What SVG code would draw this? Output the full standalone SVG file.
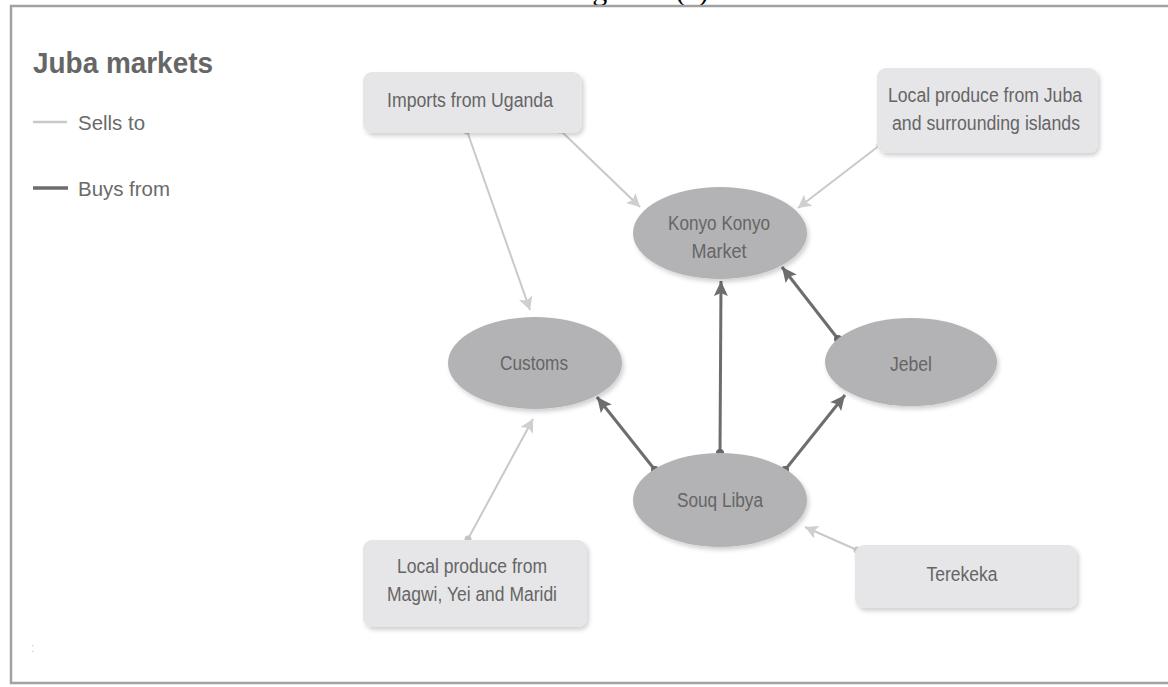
<svg xmlns="http://www.w3.org/2000/svg" width="1168" height="687" viewBox="0 0 1168 687">
<style>
  .t{font-family:"Liberation Sans","DejaVu Sans",sans-serif;fill:#656565;font-size:20px;text-anchor:middle}
  .lg{font-family:"Liberation Sans","DejaVu Sans",sans-serif;fill:#6a6a6a;font-size:21px}
  .box{fill:#e6e6e8;filter:url(#sh)}
  .ell{fill:#b3b3b5;filter:url(#sh)}
  .sell{stroke:#c9c9cb;stroke-width:2;fill:none;marker-end:url(#al)}
  .buy{stroke:#6d6d6f;stroke-width:3;fill:none;marker-end:url(#ad)}
  .dl{fill:#c4c4c6}
  .dd{fill:#666668}
</style>
<defs>
  <filter id="sh" x="-10%" y="-10%" width="125%" height="130%">
    <feDropShadow dx="2" dy="3" stdDeviation="2" flood-color="#000" flood-opacity="0.18"/>
  </filter>
  <marker id="ad" markerUnits="userSpaceOnUse" markerWidth="16" markerHeight="14" refX="15" refY="7" orient="auto">
    <path d="M0,0 L15,7 L0,14 L3,7 z" fill="#6d6d6f"/>
  </marker>
  <marker id="al" markerUnits="userSpaceOnUse" markerWidth="14" markerHeight="14" refX="13" refY="7" orient="auto">
    <path d="M0,0 L13,7 L0,14 L3,7 z" fill="#cfcfd1"/>
  </marker>
</defs>
<rect width="1168" height="687" fill="#ffffff"/>
<text x="638" y="0" font-family="Liberation Serif, serif" font-size="30" text-anchor="middle" fill="#000">Figure 3 (c)</text>
<rect x="11" y="6" width="1170" height="677" fill="none" stroke="#a2a2a2" stroke-width="2.5"/>

<g id="legend">
  <text x="33" y="73" font-family="Liberation Sans, sans-serif" font-weight="bold" font-size="29" fill="#666" textLength="180" lengthAdjust="spacingAndGlyphs">Juba markets</text>
  <line x1="33" y1="122" x2="67" y2="122" stroke="#c9c9cb" stroke-width="2.5"/>
  <text class="lg" x="78" y="130" textLength="67" lengthAdjust="spacingAndGlyphs">Sells to</text>
  <line x1="33" y1="188" x2="68" y2="188" stroke="#6d6d6f" stroke-width="3.5"/>
  <text class="lg" x="78" y="196" textLength="92" lengthAdjust="spacingAndGlyphs">Buys from</text>
  <text x="31" y="652" font-family="Liberation Sans, sans-serif" font-size="12" fill="#c8c8c8">:</text>
</g>

<g id="connectors">
  <line class="sell" x1="467" y1="131" x2="530" y2="310"/>
  <line class="sell" x1="560" y1="130" x2="640" y2="207"/>
  <line class="sell" x1="880" y1="145" x2="798" y2="208"/>
  <line class="sell" x1="468" y1="539" x2="533" y2="419"/>
  <line class="sell" x1="857" y1="550" x2="805" y2="527"/>
  <circle class="dl" cx="467" cy="131" r="3.5"/>
  <circle class="dl" cx="560" cy="130" r="3.5"/>
  <circle class="dl" cx="880" cy="145" r="3.5"/>
  <circle class="dl" cx="468" cy="539" r="3.5"/>
  <circle class="dl" cx="857" cy="550" r="3.5"/>
  <line class="buy" x1="720" y1="453" x2="721" y2="281"/>
  <line class="buy" x1="655" y1="470" x2="597" y2="397"/>
  <line class="buy" x1="785" y1="470" x2="845" y2="395"/>
  <line class="buy" x1="838" y1="339" x2="782" y2="267"/>
  <circle class="dd" cx="720" cy="453" r="4"/>
  <circle class="dd" cx="655" cy="470" r="4"/>
  <circle class="dd" cx="785" cy="470" r="4"/>
  <circle class="dd" cx="838" cy="339" r="4"/>
</g>

<g id="imports-uganda">
  <rect class="box" x="363" y="72" width="219" height="61" rx="9"/>
  <text class="t" x="470" y="107" textLength="166" lengthAdjust="spacingAndGlyphs">Imports from Uganda</text>
</g>
<g id="local-juba">
  <rect class="box" x="877" y="68" width="221" height="85" rx="9"/>
  <text class="t" x="985" y="102" textLength="194" lengthAdjust="spacingAndGlyphs">Local produce from Juba</text>
  <text class="t" x="986" y="130" textLength="188" lengthAdjust="spacingAndGlyphs">and surrounding islands</text>
</g>
<g id="konyo">
  <ellipse class="ell" cx="720" cy="233" rx="87" ry="46"/>
  <text class="t" x="719" y="230" textLength="102" lengthAdjust="spacingAndGlyphs">Konyo Konyo</text>
  <text class="t" x="719" y="258" textLength="55" lengthAdjust="spacingAndGlyphs">Market</text>
</g>
<g id="customs">
  <ellipse class="ell" cx="535" cy="363" rx="87" ry="46"/>
  <text class="t" x="534" y="370" textLength="68" lengthAdjust="spacingAndGlyphs">Customs</text>
</g>
<g id="jebel">
  <ellipse class="ell" cx="911" cy="362" rx="86" ry="44"/>
  <text class="t" x="911" y="371" textLength="42" lengthAdjust="spacingAndGlyphs">Jebel</text>
</g>
<g id="souq-libya">
  <ellipse class="ell" cx="720" cy="500" rx="87" ry="47"/>
  <text class="t" x="720" y="507" textLength="86" lengthAdjust="spacingAndGlyphs">Souq Libya</text>
</g>
<g id="local-magwi">
  <rect class="box" x="363" y="540" width="224" height="87" rx="9"/>
  <text class="t" x="472" y="573" textLength="150" lengthAdjust="spacingAndGlyphs">Local produce from</text>
  <text class="t" x="472" y="601" textLength="170" lengthAdjust="spacingAndGlyphs">Magwi, Yei and Maridi</text>
</g>
<g id="terekeka">
  <rect class="box" x="855" y="545" width="222" height="63" rx="9"/>
  <text class="t" x="962" y="581" textLength="71" lengthAdjust="spacingAndGlyphs">Terekeka</text>
</g>
</svg>
